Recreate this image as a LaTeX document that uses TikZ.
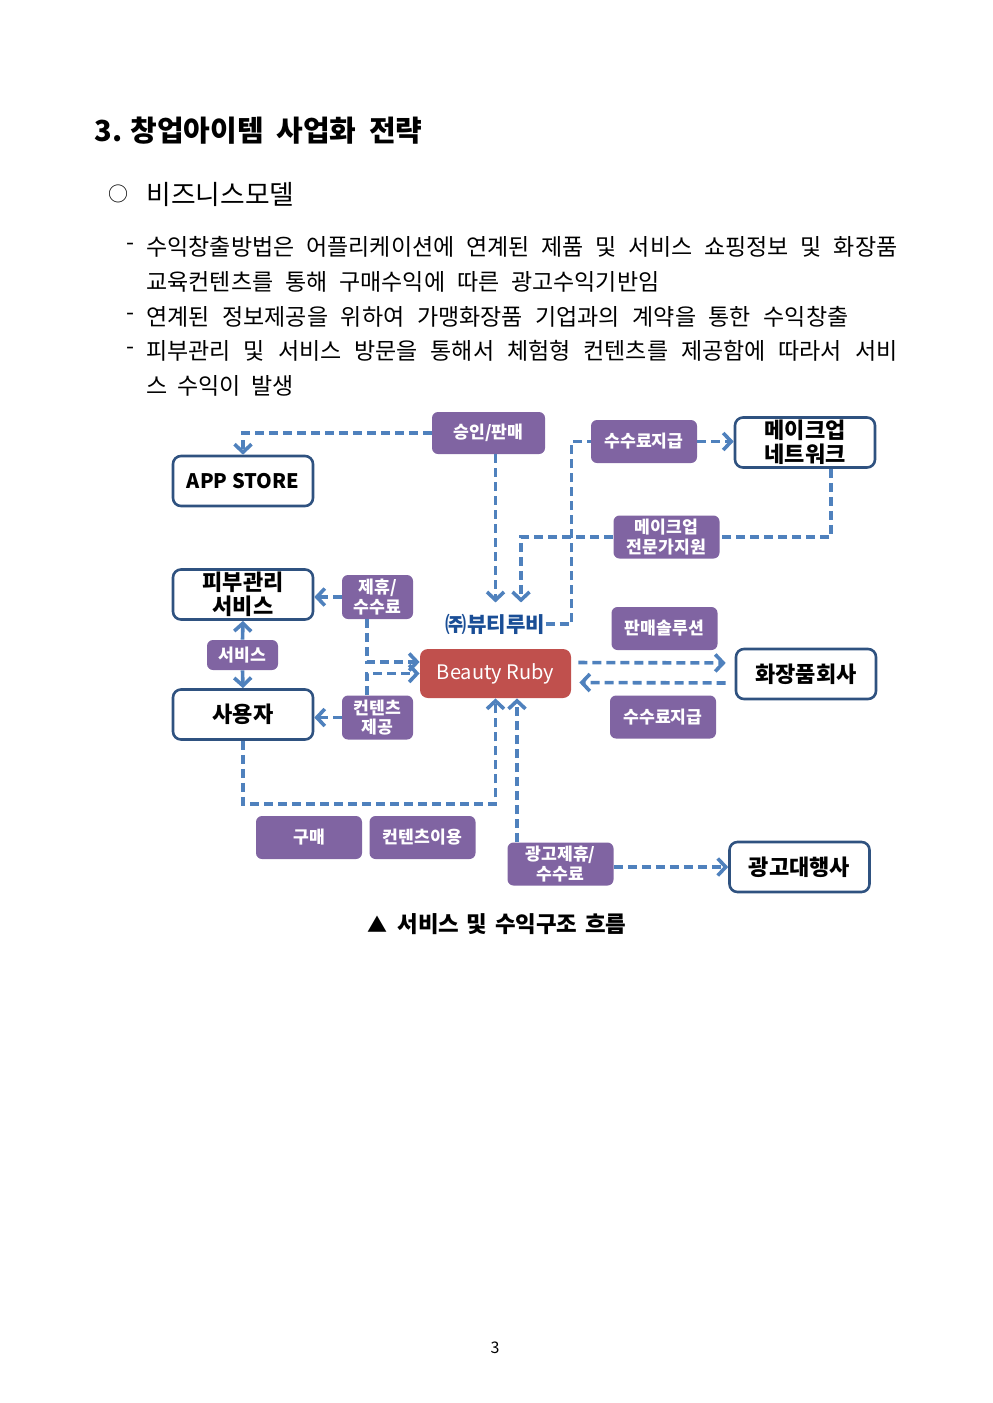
\documentclass[tikz,border=0pt]{standalone}
\usepackage{fontspec}
\setmainfont{Noto Sans CJK KR}
\usetikzlibrary{arrows.meta, positioning, calc}
\definecolor{tagpurple}{RGB}{128,100,162}
\definecolor{rubyred}{RGB}{192,80,77}
\definecolor{flowblue}{RGB}{79,129,189}
\definecolor{boxblue}{RGB}{47,82,128}
\definecolor{corpblue}{RGB}{26,78,150}

\tikzset{
  party/.style={draw=boxblue, line width=1.3pt, fill=white, rounded corners=4pt,
    minimum width=70pt, minimum height=25pt, inner sep=0pt, align=center,
    font=\bfseries\fontsize{11}{11.8}\selectfont},
  tag/.style={fill=tagpurple, rounded corners=3pt, text=white, minimum width=53pt,
    minimum height=21.5pt, inner sep=0pt, align=center,
    font=\bfseries\fontsize{8.6}{9.6}\selectfont},
  smalltag/.style={tag, minimum width=35.5pt, minimum height=22pt},
  flow/.style={draw=flowblue, line width=1.8pt, dash pattern=on 4.5pt off 2.5pt,
    -{Straight Barb[length=4pt,width=8.5pt]}},
  flowline/.style={flow, -},
  body/.style={anchor=west, inner sep=0pt, font=\fontsize{11.5}{12}\selectfont},
}

\begin{document}
\begin{tikzpicture}[x=0.5pt, y=-0.5pt, >=Stealth]
  \useasboundingbox (0,0) rectangle (992,1403);

  % Heading and text
  \node[anchor=west, inner sep=0pt, font=\bfseries\fontsize{14.5}{16}\selectfont] (num)
    at (94,131) {3.};
  \node[anchor=west, inner sep=0pt, font=\bfseries\fontsize{14.5}{16}\selectfont] (title)
    at (130,131) {\makebox[146pt][s]{창업아이템 사업화 전략}};
  \node[inner sep=0pt, font=\fontsize{10}{12}\selectfont] (ring) at (118,194) {○};
  \node[anchor=west, inner sep=0pt, font=\fontsize{13.4}{14}\selectfont] (model)
    at (146,194) {비즈니스모델};

  \node[body] (l1) at (146,247) {\makebox[375.5pt][s]{수익창출방법은 어플리케이션에 연계된 제품 및 서비스 쇼핑정보 및 화장품}};
  \node[body] (l2) at (146,282) {\makebox[256.5pt][s]{교육컨텐츠를 통해 구매수익에 따른 광고수익기반임}};
  \node[body] (l3) at (146,317) {\makebox[351pt][s]{연계된 정보제공을 위하여 가맹화장품 기업과의 계약을 통한 수익창출}};
  \node[body] (l4) at (146,351) {\makebox[375.5pt][s]{피부관리 및 서비스 방문을 통해서 체험형 컨텐츠를 제공함에 따라서 서비}};
  \node[body] (l5) at (146,386) {\makebox[73.5pt][s]{스 수익이 발생}};
  \foreach \y in {247,317,351}
    \node[body] at (126,\y) {-};

  % Parties
  \node[party, font=\bfseries\fontsize{10}{11.5}\selectfont] (appstore) at (243,481) {APP STORE};
  \node[party] (skin) at (243,594.5) {피부관리\\서비스};
  \node[party] (user) at (243,714.5) {사용자};
  \node[party] (network) at (805,442.5) {메이크업\\네트워크};
  \node[party] (cosmetic) at (806,674) {화장품회사};
  \node[party] (agency) at (799.5,867) {광고대행사};

  \node[fill=rubyred, rounded corners=4pt, minimum width=75.5pt, minimum height=24.5pt,
    text=white, font=\fontsize{10}{12}\selectfont] (ruby) at (495.5,673.5) {Beauty Ruby};
  \node[text=corpblue, inner sep=0pt, font=\bfseries\fontsize{10.6}{12}\selectfont] (corp)
    at (495.5,624) {㈜뷰티루비};

  % Labels
  \node[tag, minimum width=56.5pt, minimum height=21pt] (approve) at (488.5,433) {승인/판매};
  \node[tag] (fee) at (644,441.5) {수수료지급};
  \node[tag] (expert) at (666.5,537) {메이크업\\전문가지원};
  \node[smalltag] (partner) at (377.5,597) {제휴/\\수수료};
  \node[smalltag, minimum height=15pt] (service) at (242.5,655) {서비스};
  \node[smalltag] (content) at (377.5,717.5) {컨텐츠\\제공};
  \node[tag] (solution) at (664.5,628.5) {판매솔루션};
  \node[tag] (payback) at (663,717) {수수료지급};
  \node[tag] (buy) at (309,837.5) {구매};
  \node[tag] (use) at (422.5,837.5) {컨텐츠이용};
  \node[tag] (adfee) at (560.5,864) {광고제휴/\\수수료};

  % Flows
  \draw[flow] (approve.west) -| (appstore.north);
  \draw[flow, shorten >=5.5pt] (approve.south -| corp.north) -- (corp.north);
  \draw[flow, shorten >=5.5pt] (expert.west) -| ($(corp.north)+(25.5,0)$);
  \draw[flowline] (network.south) ++(26,0) |- (expert.east);
  \draw[flowline] (corp.east) -- ++(26,0) |- (fee.west);
  \draw[flow] (fee.east) -- (fee.east -| network.west);

  \draw[flow] (partner.west) -- (partner.west -| skin.east);
  \draw[flow] (partner.south) ++(-10.5,0) |- ([yshift=5.75pt]ruby.west);
  \draw[flow] (content.north) ++(-10.5,0) |- (ruby.west);
  \draw[flow] (content.west) -- (content.west -| user.east);
  \draw[flow, solid] (service.north) -- (skin.south);
  \draw[flow, solid] (service.south) -- (user.north);
  \draw[flow] (user.south) -- ++(0,63) -| (ruby.south);
  \draw[flow] ($(adfee.north)+(-43.5,0)$) -- ($(ruby.south)+(21.5,0)$);

  \draw[flow, shorten <=3.5pt, shorten >=4.5pt] ([yshift=5.5pt]ruby.east) -- ([yshift=5.5pt]cosmetic.west);
  \draw[flow, shorten <=4.5pt, shorten >=4pt] ([yshift=-4.5pt]cosmetic.west) -- ([yshift=-4.5pt]ruby.east);
  \draw[flow] (adfee.east |- agency.west) -- (agency.west);

  % Caption and page number
  \node[inner sep=0pt, font=\fontsize{10}{12}\selectfont] (tri) at (377,924) {▲};
  \node[anchor=west, inner sep=0pt, font=\bfseries\fontsize{11.2}{13}\selectfont] (caption)
    at (397,924) {\makebox[114.5pt][s]{서비스 및 수익구조 흐름}};
  \node[font=\fontsize{8}{10}\selectfont] (page) at (495,1348) {3};
\end{tikzpicture}
\end{document}
